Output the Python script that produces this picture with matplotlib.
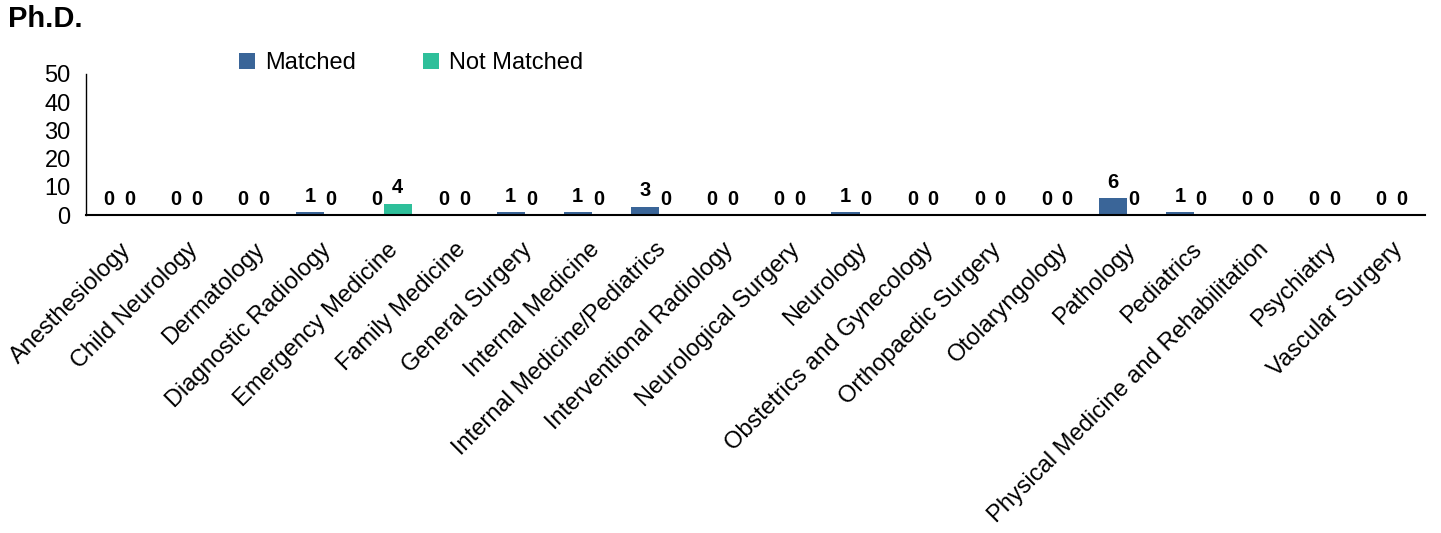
import matplotlib
matplotlib.use("Agg")
import matplotlib.pyplot as plt
import matplotlib.transforms as mtransforms
import numpy as np

plt.rcParams['font.family'] = ['Liberation Sans', 'DejaVu Sans']

categories = ["Anesthesiology", "Child Neurology", "Dermatology", "Diagnostic Radiology",
              "Emergency Medicine", "Family Medicine", "General Surgery", "Internal Medicine",
              "Internal Medicine/Pediatrics", "Interventional Radiology", "Neurological Surgery",
              "Neurology", "Obstetrics and Gynecology", "Orthopaedic Surgery", "Otolaryngology",
              "Pathology", "Pediatrics", "Physical Medicine and Rehabilitation", "Psychiatry",
              "Vascular Surgery"]
matched = [0, 0, 0, 1, 0, 0, 1, 1, 3, 0, 0, 1, 0, 0, 0, 6, 1, 0, 0, 0]
not_matched = [0, 0, 0, 0, 4, 0, 0, 0, 0, 0, 0, 0, 0, 0, 0, 0, 0, 0, 0, 0]
series_names = ["Matched", "Not Matched"]
colors = ["#3A6598", "#2EBF9A"]
yticks = [0, 10, 20, 30, 40, 50]

W, H = 1441, 533
fig = plt.figure(figsize=(W/100, H/100), dpi=100)
ax = fig.add_axes([86/W, 1 - 215/H, (1425 - 86)/W, (215 - 74)/H])

x = np.arange(len(categories))
w = 0.42
off = 0.155
b1 = ax.bar(x - off, matched, w, color=colors[0], label=series_names[0])
b2 = ax.bar(x + off, not_matched, w, color=colors[1], label=series_names[1])
for bars, vals in ((b1, matched), (b2, not_matched)):
    for r, v in zip(bars, vals):
        ax.annotate(str(v), (r.get_x() + r.get_width()/2, r.get_height()),
                    xytext=(0, 4.5), textcoords='offset points', ha='center', va='bottom',
                    fontsize=14.5, fontweight='bold')

ax.set_ylim(0, 50)
ax.set_yticks(yticks)
ax.set_xlim(-0.5, len(categories) - 0.5)
ax.set_xticks(x)
ax.set_xticklabels(categories, rotation=45, ha='right', rotation_mode='anchor', fontsize=17)
shift = mtransforms.ScaledTranslation(12/100, 0, fig.dpi_scale_trans)
for lab in ax.get_xticklabels():
    lab.set_transform(lab.get_transform() + shift)
ax.tick_params(axis='both', length=0)
ax.tick_params(axis='y', labelsize=17, pad=11)
ax.tick_params(axis='x', pad=17)
for s in ['top', 'right']:
    ax.spines[s].set_visible(False)
ax.spines['left'].set_linewidth(1.0)
ax.spines['bottom'].set_linewidth(1.5)

fig.text(8/W, 1 - 19/H, "Ph.D.", fontsize=21, fontweight='bold', va='center', ha='left')
fig.legend(handles=[b1, b2], loc='center', bbox_to_anchor=(411/W, 1 - 63/H), ncol=2,
           frameon=False, fontsize=17, handlelength=0.66, handleheight=0.66,
           columnspacing=2.85, handletextpad=0.42)

fig.savefig("out.png", dpi=100)
